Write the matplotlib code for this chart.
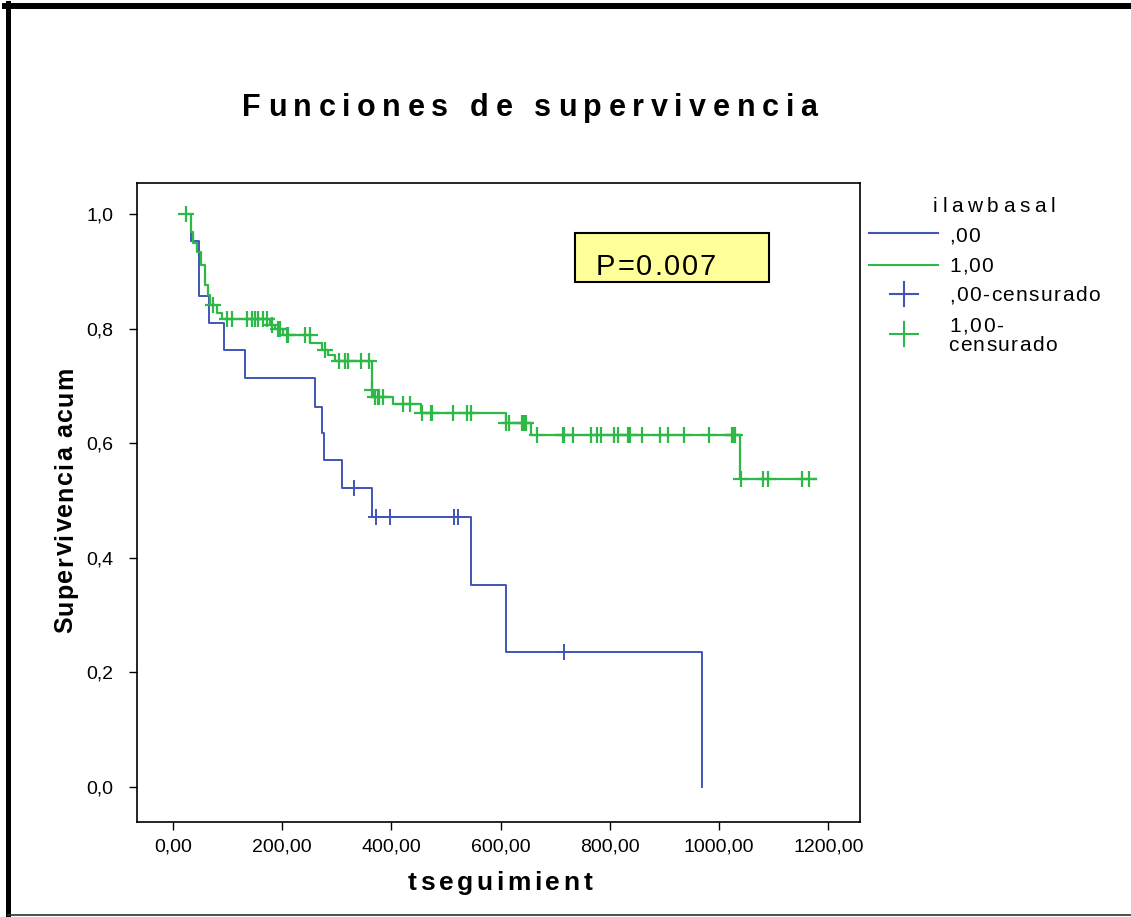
import matplotlib
matplotlib.use("Agg")
import matplotlib.pyplot as plt
import numpy as np
from matplotlib.font_manager import FontProperties
from matplotlib.lines import Line2D
from matplotlib.patches import Rectangle

plt.rcParams["font.family"] = ["Liberation Sans", "DejaVu Sans"]

# Kaplan-Meier steps (time, cumulative survival)
blue_t = [30, 32, 48, 65, 94, 132, 260, 272, 277, 310, 364, 546, 609, 969]
blue_s = [1.0, 0.952, 0.857, 0.810, 0.762, 0.714, 0.664, 0.617, 0.570,
          0.522, 0.472, 0.352, 0.235, 0.0]
blue_cens = [331, 372, 397, 514, 521, 716]

green_t = [23, 32, 37, 43, 51, 59, 64, 68, 81, 90, 178, 187, 202, 251, 272,
           283, 297, 364, 367, 403, 454, 609, 655, 1039, 1177]
green_s = [1.0, 0.969, 0.949, 0.934, 0.911, 0.876, 0.859, 0.841, 0.827, 0.816,
           0.806, 0.799, 0.789, 0.775, 0.763, 0.754, 0.743, 0.693, 0.681,
           0.668, 0.652, 0.636, 0.614, 0.5375, 0.5375]
green_cens = [23, 74, 98, 108, 135, 144, 151, 156, 164, 172, 182, 193, 196,
              208, 211, 242, 250, 278, 304, 315, 321, 344, 359, 365, 370, 376,
              378, 384, 422, 434, 455, 473, 474, 513, 538, 546, 609, 616, 639,
              643, 646, 666, 714, 716, 733, 765, 777, 784, 808, 815, 834, 837,
              858, 891, 907, 936, 982, 1023, 1026, 1029, 1040, 1081, 1090,
              1152, 1164]

x_ticks = [0, 200, 400, 600, 800, 1000, 1200]
x_tick_labels = ["0,00", "200,00", "400,00", "600,00", "800,00", "1000,00", "1200,00"]
y_ticks = [0.0, 0.2, 0.4, 0.6, 0.8, 1.0]
y_tick_labels = ["0,0", "0,2", "0,4", "0,6", "0,8", "1,0"]

legend_title = "ilawbasal"
legend_labels = [",00", "1,00", ",00-censurado", "1,00-", "censurado"]
p_text = "P=0.007"

BLUE = "#4055b5"
GREEN = "#2db848"
FONT = ["Liberation Sans", "DejaVu Sans"]

W, H = 1131, 917
fig = plt.figure(figsize=(W / 100, H / 100), dpi=100)
ax = fig.add_axes([137 / W, 1 - 822 / H, (860 - 137) / W, (822 - 183) / H])


def surv_at(times, surv, t):
    idx = np.searchsorted(times, t, side="right") - 1
    return np.asarray(surv)[idx]


ax.step(blue_t, blue_s, where="post", color=BLUE, lw=1.4)
ax.step(green_t, green_s, where="post", color=GREEN, lw=1.6)
ax.plot(blue_cens, surv_at(blue_t, blue_s, blue_cens), ls="none", marker="+",
        ms=11, mew=1.4, color=BLUE)
ax.plot(green_cens, surv_at(green_t, green_s, green_cens), ls="none", marker="+",
        ms=11, mew=1.6, color=GREEN)

ax.set_xlim(-66, 1258)
ax.set_ylim(-0.061, 1.054)
ax.set_xticks(x_ticks)
ax.set_xticklabels(x_tick_labels)
ax.set_yticks(y_ticks)
ax.set_yticklabels(y_tick_labels)
ax.tick_params(direction="out", length=6, width=1, labelsize=14, colors="black")
ax.tick_params(axis="x", pad=6)
ax.tick_params(axis="y", pad=11)
for sp in ax.spines.values():
    sp.set_linewidth(1.2)

renderer = fig.canvas.get_renderer()


def char_w(c, prop):
    w1 = renderer.get_text_width_height_descent("|" + c + "|", prop, ismath=False)[0]
    w0 = renderer.get_text_width_height_descent("||", prop, ismath=False)[0]
    return w1 - w0


# letter-spaced text, positions in pixels from the top-left corner
def spaced(s, x, y, size, width, weight="normal", ha="center", rot=0):
    prop = FontProperties(family=FONT, size=size, weight=weight)
    ws = [char_w(c, prop) for c in s]
    gap = (width - sum(ws)) / max(len(s) - 1, 1)
    if rot == 0:
        pos = x - width / 2 if ha == "center" else x
        for c, w in zip(s, ws):
            fig.text(pos / W, 1 - y / H, c, fontproperties=prop,
                     ha="left", va="baseline")
            pos += w + gap
    else:
        pos = y + width / 2
        for c, w in zip(s, ws):
            fig.text(x / W, 1 - pos / H, c, fontproperties=prop, rotation=90,
                     rotation_mode="anchor", ha="left", va="baseline")
            pos -= w + gap


spaced("Funciones de supervivencia", 530, 116, 22, 575, weight="bold")
spaced("tseguimient", 500, 890, 19, 184, weight="bold")
spaced("Supervivencia acum", 72, 500, 18, 266, weight="bold", rot=90)

# p-value box
fig.add_artist(Rectangle((575 / W, 1 - 282 / H), 194 / W, 49 / H,
                         transform=fig.transFigure, facecolor="#ffff99",
                         edgecolor="black", lw=1.5))
spaced(p_text, 656, 275, 21, 120)

# legend
spaced(legend_title, 933, 212, 15, 122, ha="left")
for yy, col in [(233, BLUE), (265, GREEN)]:
    fig.add_artist(Line2D([869 / W, 938 / W], [1 - yy / H] * 2,
                          transform=fig.transFigure, color=col, lw=1.5))
for yy, col in [(294, BLUE), (334, GREEN)]:
    fig.add_artist(Line2D([890 / W, 918 / W], [1 - yy / H] * 2,
                          transform=fig.transFigure, color=col, lw=1.5))
    fig.add_artist(Line2D([904 / W] * 2, [1 - (yy - 12) / H, 1 - (yy + 12) / H],
                          transform=fig.transFigure, color=col, lw=1.5))
spaced(legend_labels[0], 949, 242, 15, 31, ha="left")
spaced(legend_labels[1], 949, 272, 15, 44, ha="left")
spaced(legend_labels[2], 949, 301, 15, 151, ha="left")
spaced(legend_labels[3], 949, 332, 15, 54, ha="left")
spaced(legend_labels[4], 948, 351, 15, 109, ha="left")

# page border
fig.add_artist(Line2D([5 / W, 1], [1 - 6 / H] * 2, transform=fig.transFigure,
                      color="black", lw=4.3))
fig.add_artist(Line2D([8 / W] * 2, [1 - 3 / H, 0], transform=fig.transFigure,
                      color="black", lw=3.6))
fig.add_artist(Line2D([8 / W, 1], [1 - 914.5 / H] * 2, transform=fig.transFigure,
                      color="#303030", lw=1.2))

fig.savefig("out.png", dpi=100)
